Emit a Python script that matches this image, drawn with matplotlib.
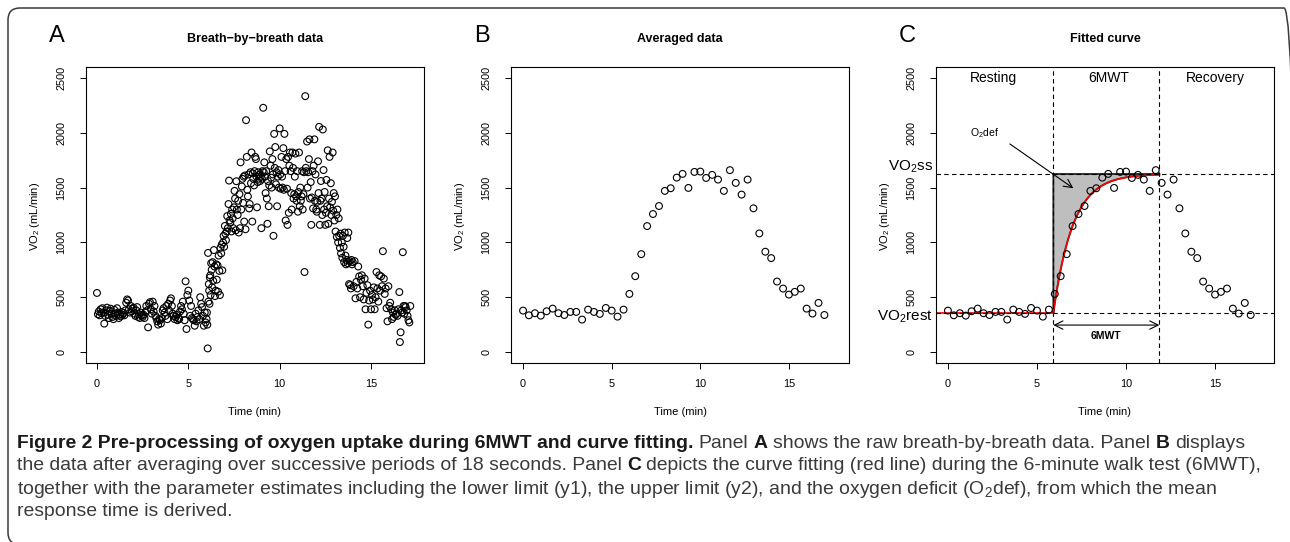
import matplotlib
matplotlib.use("Agg")
import matplotlib.pyplot as plt
from matplotlib.patches import FancyBboxPatch, Polygon
import numpy as np

# figure size in pixels
W, H = 1290, 542

# ---- panel A: breath-by-breath data ----
rest_t = [0.00, 0.05, 0.10, 0.15, 0.20, 0.25, 0.30, 0.35, 0.40, 0.45, 0.50, 0.55, 0.60, 0.65, 0.70, 0.75, 0.80, 0.85, 0.90, 0.95,
          1.00, 1.05, 1.10, 1.15, 1.20, 1.25, 1.30, 1.35, 1.40, 1.45, 1.50, 1.55, 1.60, 1.65, 1.70, 1.75, 1.80, 1.85, 1.90, 1.95,
          2.00, 2.05, 2.10, 2.15, 2.20, 2.25, 2.30, 2.35, 2.40, 2.45, 2.50, 2.55, 2.60, 2.65, 2.70, 2.75, 2.80, 2.85, 2.90, 2.95,
          3.00, 3.05, 3.10, 3.15, 3.20, 3.25, 3.30, 3.35, 3.40, 3.45, 3.50, 3.55, 3.60, 3.65, 3.70, 3.75, 3.80, 3.85, 3.90, 3.95,
          4.00, 4.05, 4.10, 4.15, 4.20, 4.25, 4.30, 4.35, 4.40, 4.45, 4.50, 4.55, 4.60, 4.65, 4.70, 4.75, 4.80, 4.85, 4.90, 4.95,
          5.00, 5.05, 5.10, 5.15, 5.20, 5.25, 5.30, 5.35, 5.40, 5.45, 5.50, 5.55, 5.60, 5.65, 5.70, 5.75, 5.80, 5.85, 5.90, 5.95,
          6.00]
rest_vo2 = [539, 345, 370, 335, 390, 355, 400, 360, 259, 330, 380, 405, 340, 310, 375, 395, 350, 320, 300, 385,
            350, 330, 400, 360, 310, 340, 325, 365, 340, 355, 335, 380, 450, 480, 470, 390, 360, 420, 370, 395,
            405, 350, 330, 380, 410, 320, 345, 310, 360, 335, 320, 340, 310, 365, 420, 380, 225, 440, 455, 390,
            350, 460, 370, 420, 330, 310, 280, 250, 300, 290, 260, 310, 380, 400, 360, 330, 420, 300, 440, 380,
            470, 490, 420, 350, 330, 300, 320, 340, 290, 310, 300, 370, 420, 390, 460, 350, 290, 645, 210, 520,
            560, 470, 330, 420, 310, 300, 290, 240, 350, 280, 320, 380, 300, 500, 440, 410, 330, 240, 360, 270,
            300]

walk_t = [6.02, 6.04, 6.06, 6.08, 6.10, 6.12, 6.14, 6.16, 6.18, 6.20, 6.22, 6.25, 6.28, 6.30, 6.33, 6.36, 6.40,
          6.43, 6.46, 6.50, 6.53, 6.56, 6.60, 6.63, 6.66, 6.70, 6.73, 6.76, 6.80, 6.83, 6.86, 6.90, 6.93, 6.96,
          7.00, 7.03, 7.06, 7.10, 7.13, 7.16, 7.20, 7.23, 7.26, 7.30, 7.33, 7.36, 7.40, 7.43, 7.46,
          7.50, 7.53, 7.56, 7.60, 7.63, 7.66, 7.70, 7.73, 7.76, 7.80, 7.83, 7.86, 7.90, 7.93, 7.96,
          8.00, 8.03, 8.06, 8.10, 8.13, 8.16, 8.20, 8.23, 8.26, 8.30, 8.33, 8.36, 8.40, 8.43, 8.46,
          8.50, 8.53, 8.56, 8.60, 8.63, 8.66, 8.70, 8.73, 8.76, 8.80, 8.83, 8.86, 8.90, 8.93, 8.96,
          9.00, 9.03, 9.06, 9.10, 9.13, 9.16, 9.20, 9.23, 9.26, 9.30, 9.33, 9.36, 9.40, 9.43, 9.46,
          9.50, 9.53, 9.56, 9.60, 9.63, 9.66, 9.70, 9.73, 9.76, 9.80, 9.83, 9.86, 9.90, 9.93, 9.96,
          10.00, 10.03, 10.06, 10.10, 10.13, 10.16, 10.20, 10.23, 10.26, 10.30, 10.33, 10.36, 10.40, 10.43, 10.46,
          10.50, 10.53, 10.56, 10.60, 10.63, 10.66, 10.70, 10.73, 10.76, 10.80, 10.83, 10.86, 10.90, 10.93, 10.96,
          11.00, 11.03, 11.06, 11.10, 11.13, 11.16, 11.20, 11.23, 11.26, 11.30, 11.33, 11.36, 11.40, 11.43, 11.46,
          11.50, 11.53, 11.56, 11.60, 11.63, 11.66, 11.70, 11.73, 11.76, 11.80, 11.83, 11.86, 11.90, 11.93, 11.96,
          12.00, 12.03, 12.06, 12.10, 12.13, 12.16, 12.20, 12.23, 12.26, 12.30, 12.33, 12.36, 12.40, 12.43, 12.46,
          12.50, 12.53, 12.56, 12.60, 12.63, 12.66, 12.70, 12.73, 12.76, 12.80, 12.83, 12.86, 12.90, 12.93, 12.96]
walk_vo2 = [360, 250, 33, 904, 460, 620, 560, 440, 680, 700, 520, 810, 750, 590, 820, 650, 930,
            780, 510, 560, 800, 660, 790, 550, 880, 740, 520, 950, 900, 980, 745, 1000, 1060, 960,
            1150, 1080, 1020, 1100, 1240, 1130, 1350, 1564, 1200, 1180, 1260, 1100, 1300, 1220, 1130,
            1320, 1470, 1400, 1110, 1558, 1300, 1250, 1380, 1090, 1440, 1130, 1730, 1300, 1510, 1580,
            1360, 1600, 1190, 1610, 1120, 2115, 1780, 1480, 1420, 1620, 1310, 1350, 1640, 1540, 1820,
            1190, 1630, 1580, 1520, 1650, 1780, 1760, 1600, 1320, 1550, 1640, 1580, 1620, 1560, 1600,
            1130, 1580, 1650, 2228, 1640, 1730, 1600, 1450, 1650, 1400, 1170, 1560, 1330, 1520, 1830,
            1700, 1590, 1500, 1760, 1620, 1060, 1990, 1680, 1870, 1530, 1640, 1330, 1600, 1660, 1500,
            2040, 1620, 1490, 1780, 1600, 1500, 1860, 1480, 1990, 1650, 1200, 1760, 1490, 1160, 1780,
            1270, 1700, 1820, 1650, 1450, 1300, 1820, 1680, 1400, 1440, 1600, 1810, 1420, 1380, 1650,
            1280, 1460, 1820, 1330, 1500, 1380, 1420, 1650, 1300, 1440, 1640, 730, 2334, 1680, 1650,
            1920, 1500, 1640, 1760, 1940, 1400, 1550, 1160, 1410, 1650, 1310, 1700, 1940, 1380, 1620,
            1300, 1280, 1370, 1740, 1450, 2054, 1160, 1380, 1560, 1400, 1250, 2030, 1660, 1300, 1460,
            1160, 1270, 1570, 1330, 1840, 1170, 1400, 1780, 1320, 1540, 1250, 1370, 1820, 1290, 1450]

rec_t = [13.00, 13.03, 13.06, 13.10, 13.13, 13.16, 13.20, 13.23, 13.26, 13.30, 13.33, 13.36, 13.40, 13.43, 13.46,
         13.50, 13.53, 13.56, 13.60, 13.63, 13.66, 13.70, 13.73, 13.76, 13.80, 13.83, 13.86, 13.90, 13.93, 13.96,
         14.00, 14.05, 14.10, 14.15, 14.20, 14.25, 14.30, 14.35, 14.40, 14.45, 14.50, 14.55, 14.60, 14.65, 14.70,
         14.75, 14.80, 14.85, 14.90, 14.95,
         15.00, 15.05, 15.10, 15.15, 15.20, 15.25, 15.30, 15.35, 15.40, 15.45, 15.50, 15.55, 15.60, 15.65, 15.70,
         15.75, 15.80, 15.85, 15.90, 15.95,
         16.00, 16.05, 16.10, 16.15, 16.20, 16.25, 16.30, 16.35, 16.40, 16.45, 16.50, 16.55, 16.58, 16.62, 16.66,
         16.70, 16.74, 16.78, 16.82, 16.86, 16.90, 16.95, 17.00, 17.05, 17.10, 17.15]
rec_vo2 = [1200, 1420, 1100, 1250, 1050, 1300, 1000, 1220, 1060, 950, 1080, 900, 1000, 860, 1060,
           960, 820, 1090, 880, 800, 840, 1040, 810, 1090, 620, 830, 610, 580, 840, 800,
           820, 600, 830, 490, 640, 580, 780, 690, 500, 660, 700, 600, 480, 670, 390,
           540, 610, 250, 470, 560,
           390, 520, 480, 590, 390, 500, 730, 580, 460, 700, 560, 690, 600, 920, 670,
           530, 580, 400, 280, 600,
           420, 450, 390, 300, 360, 320, 380, 340, 350, 330, 390, 547, 91, 180, 380,
           360, 911, 420, 350, 420, 410, 380, 330, 290, 270, 420]

# ---- panels B and C: averaged data ----
avg_t = [0.0, 0.33, 0.67, 1.0, 1.33, 1.67, 2.0, 2.33, 2.67, 3.0, 3.33, 3.67, 4.0, 4.33, 4.67, 5.0, 5.33, 5.67,
         6.0, 6.33, 6.67, 7.0, 7.33, 7.67, 8.0, 8.33, 8.67, 9.0, 9.33, 9.67, 10.0, 10.33, 10.67, 11.0, 11.33, 11.67,
         12.0, 12.33, 12.67, 13.0, 13.33, 13.67, 14.0, 14.33, 14.67, 15.0, 15.33, 15.67, 16.0, 16.33, 16.67, 17.0]
avg_vo2 = [378, 335, 354, 332, 372, 396, 354, 338, 366, 366, 296, 387, 366, 348, 402, 378, 323, 387,
           530, 692, 893, 1149, 1259, 1332, 1470, 1494, 1591, 1625, 1497, 1643, 1646, 1588, 1616, 1573, 1470, 1659,
           1543, 1436, 1573, 1311, 1082, 915, 857, 643, 579, 524, 549, 579, 396, 351, 448, 338]

# fitted curve parameters (panel C)
vo2_rest = 357
vo2_ss = 1624
t_on = 5.92
t_off = 11.87
tau = 1.1

plt.rcParams['font.family'] = ['Liberation Sans', 'DejaVu Sans']
plt.rcParams['mathtext.fontset'] = 'custom'
plt.rcParams['mathtext.rm'] = 'Liberation Sans'
plt.rcParams['mathtext.it'] = 'Liberation Sans:italic'
plt.rcParams['mathtext.bf'] = 'Liberation Sans:bold'

fig = plt.figure(figsize=(W / 100, H / 100), dpi=100)


def fx(x):
    return x / W


def fy(y):
    return 1 - y / H


AX_TOP, AX_BOT = 67, 363


def make_axes(left, right, xlim, title, letter):
    ax = fig.add_axes([fx(left), fy(AX_BOT), (right - left) / W, (AX_BOT - AX_TOP) / H])
    ax.set_xlim(*xlim)
    ax.set_ylim(-100, 2600)
    ax.set_xticks([0, 5, 10, 15])
    ax.set_yticks([0, 500, 1000, 1500, 2000, 2500])
    for s in ax.spines.values():
        s.set_linewidth(0.8)
    ax.tick_params(direction='out', length=4.3, width=0.7, labelsize=7.8, color='black')
    ax.tick_params(axis='x', pad=7)
    ax.tick_params(axis='y', pad=10, labelrotation=90)
    plt.setp(ax.get_yticklabels(), va='center')
    cx = (left + right) / 2
    fig.text(fx(cx), fy(39), title, ha='center', va='center', fontsize=9, fontweight='bold')
    fig.text(fx(cx), fy(412), 'Time (min)', ha='center', va='center', fontsize=8)
    fig.text(fx(left - 51), fy(216), 'VO$_2$ (mL/min)', ha='center', va='center', fontsize=8, rotation=90)
    fig.text(fx(left - 29), fy(36), letter, ha='center', va='center', fontsize=17)
    return ax


circ = dict(s=24, facecolors='none', edgecolors='black', linewidths=0.8, zorder=3)

# A
axA = make_axes(86, 424, (-0.60, 17.9), 'Breath\u2212by\u2212breath data', 'A')
axA.scatter(rest_t + walk_t + rec_t, rest_vo2 + walk_vo2 + rec_vo2, **circ)

# B
axB = make_axes(511, 849, (-0.68, 18.39), 'Averaged data', 'B')
axB.scatter(avg_t, avg_vo2, **circ)

# C
axC = make_axes(936, 1274, (-0.67, 18.31), 'Fitted curve', 'C')
curve_t = np.linspace(t_on, t_off, 200)
curve_v = vo2_rest + (vo2_ss - vo2_rest) * (1 - np.exp(-(curve_t - t_on) / tau))
poly = [(t_on, vo2_rest), (t_on, vo2_ss), (t_off, vo2_ss)] + list(zip(curve_t[::-1], curve_v[::-1]))
axC.add_patch(Polygon(poly, closed=True, facecolor='#bebebe', edgecolor='#222222', linewidth=1.3, zorder=1))
axC.plot([-1, t_on], [vo2_rest, vo2_rest], color='red', lw=1.2, zorder=2)
axC.plot(curve_t, curve_v, color='red', lw=1.2, zorder=2)
dash = (0, (4, 3))
for yv in (vo2_rest, vo2_ss):
    axC.axhline(yv, color='black', lw=0.8, ls=dash, zorder=2)
for xv in (t_on, t_off):
    axC.axvline(xv, color='black', lw=0.8, ls=dash, zorder=2)
axC.scatter(avg_t, avg_vo2, **circ)

axC.text(2.54, 2497, 'Resting', ha='center', va='center', fontsize=10)
axC.text(9.0, 2497, '6MWT', ha='center', va='center', fontsize=10)
axC.text(15.0, 2497, 'Recovery', ha='center', va='center', fontsize=10)
axC.text(2.05, 1998, 'O$_2$def', ha='center', va='center', fontsize=7.5)
axC.annotate('', xy=(7.04, 1494), xytext=(3.48, 1898),
             arrowprops=dict(arrowstyle='->, head_length=0.6, head_width=0.3', lw=0.8, color='black',
                             shrinkA=0, shrinkB=0))
axC.annotate('', xy=(t_off, 246), xytext=(t_on, 246),
             arrowprops=dict(arrowstyle='<->, head_length=0.6, head_width=0.3', lw=0.8, color='black',
                             shrinkA=0, shrinkB=0))
axC.text((t_on + t_off) / 2, 150, '6MWT', ha='center', va='center', fontsize=7.5, fontweight='bold')
fig.text(fx(933), fy(167), 'VO$_2$ss', ha='right', va='center', fontsize=11)
fig.text(fx(933), fy(317), 'VO$_2$rest', ha='right', va='center', fontsize=11)

# rounded border around the figure (right and bottom edges fall just outside the image)
border = FancyBboxPatch((0.08, -0.025), 12.88, 5.365, boxstyle='round,pad=0,rounding_size=0.12',
                        transform=fig.dpi_scale_trans, facecolor='none', edgecolor='#3a3a3a',
                        linewidth=1.1, clip_on=False)
fig.add_artist(border)

# caption
cap_family = ['Liberation Sans Narrow', 'Liberation Sans', 'DejaVu Sans']
caption = [
    [("Figure 2 Pre-processing of oxygen uptake during 6MWT and curve fitting.", True),
     ("Panel", False), ("A", True), ("shows the raw breath-by-breath data. Panel", False),
     ("B", True), ("displays", False)],
    [("the data after averaging over successive periods of 18 seconds. Panel", False), ("C", True),
     ("depicts the curve fitting (red line) during the 6-minute walk test (6MWT),", False)],
    [("together with the parameter estimates including the lower limit (y1), the upper limit (y2), "
      "and the oxygen deficit (O$_2$def), from which the mean", False)],
    [("response time is derived.", False)],
]
cap_y = [443, 466, 489, 512]
cap_x0 = 17

renderer = fig.canvas.get_renderer()


def text_width(s, size, bold):
    t = fig.text(0, 0, s, fontsize=size, family=cap_family, fontweight='bold' if bold else 'normal')
    w = t.get_window_extent(renderer).width
    t.remove()
    return w


def line_width(segs, size):
    sp = text_width('x x', size, False) - text_width('xx', size, False)
    return sum(text_width(s, size, b) for s, b in segs) + sp * (len(segs) - 1)


base = 10
cap_size = base * (1261 - cap_x0) / line_width(caption[1], base)
space = text_width('x x', cap_size, False) - text_width('xx', cap_size, False)

for segs, yy in zip(caption, cap_y):
    x = cap_x0
    for s, b in segs:
        t = fig.text(fx(x), fy(yy), s, fontsize=cap_size, family=cap_family,
                     fontweight='bold' if b else 'normal', color='#1a1a1a' if b else '#3a3a3a',
                     ha='left', va='center')
        x += t.get_window_extent(renderer).width + space

fig.savefig('out.png', dpi=100)
